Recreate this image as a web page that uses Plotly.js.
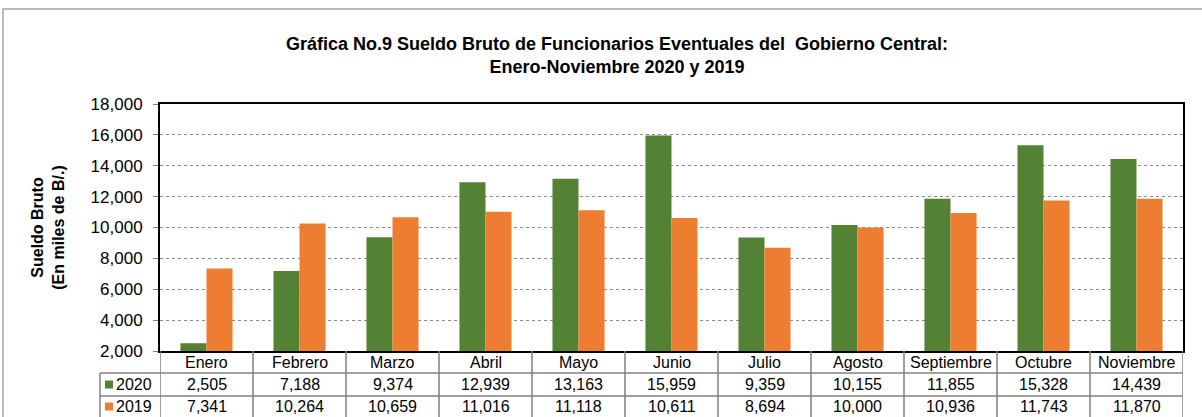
<!DOCTYPE html>
<html>
<head>
<meta charset="utf-8">
<script src="https://cdn.plot.ly/plotly-3.0.1.min.js"></script>
<style>
  html, body { margin: 0; padding: 0; background: #fff; }
  #chart { width: 1202px; height: 417px; }
</style>
</head>
<body>
<div id="chart"></div>
<script>
const months = ['Enero', 'Febrero', 'Marzo', 'Abril', 'Mayo', 'Junio', 'Julio',
  'Agosto', 'Septiembre', 'Octubre', 'Noviembre'];
const values2020 = [2505, 7188, 9374, 12939, 13163, 15959, 9359, 10155, 11855, 15328, 14439];
const values2019 = [7341, 10264, 10659, 11016, 11118, 10611, 8694, 10000, 10936, 11743, 11870];
const seriesNames = ['2020', '2019'];
const seriesColors = ['#548235', '#ED7D31'];

const fontFamily = 'Arial, "Liberation Sans", sans-serif';
const fmt = v => v.toLocaleString('en-US');

// plot area in pixels: left 160, right 1183, top 104, bottom 351
const plotTop = 104, plotBottom = 351;
const pyToPaper = py => (plotBottom - py) / (plotBottom - plotTop);
const pxToPaper = px => (px - 160) / 1023;

const traces = [values2020, values2019].map((vals, i) => ({
  type: 'bar',
  name: seriesNames[i],
  x: months,
  y: vals,
  marker: { color: seriesColors[i] },
  hoverinfo: 'x+y+name'
}));

// table rows below the plot (data table, excel style)
const rowLines = [373, 396, 417];
const rowMid = [362, 384.5, 406.5];
const tableColor = '#808080';
const cellFont = { size: 16, color: '#000', family: fontFamily };

const shapes = [];
const annotations = [];

// outer chart border
shapes.push({
  type: 'rect', xref: 'paper', yref: 'paper',
  x0: pxToPaper(3), x1: pxToPaper(1240), y0: pyToPaper(440), y1: pyToPaper(9),
  line: { color: '#a6a6a6', width: 1.5 }, layer: 'below'
});

// horizontal lines of the table
rowLines.slice(0, 2).forEach(py => {
  shapes.push({
    type: 'line', xref: 'paper', yref: 'paper',
    x0: pxToPaper(100), x1: 1, y0: pyToPaper(py), y1: pyToPaper(py),
    line: { color: tableColor, width: 1.5 }
  });
});

// vertical column lines (category boundaries)
for (let i = 0; i <= months.length; i++) {
  shapes.push({
    type: 'line', xref: 'x', yref: 'paper',
    x0: i - 0.5, x1: i - 0.5, y0: 0, y1: pyToPaper(430),
    line: { color: tableColor, width: 1.5 }
  });
}
// legend column left edge
shapes.push({
  type: 'line', xref: 'paper', yref: 'paper',
  x0: pxToPaper(100), x1: pxToPaper(100), y0: pyToPaper(rowLines[0]), y1: pyToPaper(430),
  line: { color: tableColor, width: 1.5 }
});

// month headers
months.forEach(m => {
  annotations.push({
    xref: 'x', yref: 'paper', x: m, y: pyToPaper(rowMid[0]), yanchor: 'middle',
    text: m, showarrow: false, font: cellFont
  });
});

// value rows + legend keys
[values2020, values2019].forEach((vals, r) => {
  const y = pyToPaper(rowMid[r + 1]);
  vals.forEach((v, i) => {
    annotations.push({
      xref: 'x', yref: 'paper', x: months[i], y: y, yanchor: 'middle',
      text: fmt(v), showarrow: false, font: cellFont
    });
  });
  shapes.push({
    type: 'rect', xref: 'paper', yref: 'paper',
    x0: pxToPaper(105), x1: pxToPaper(113),
    y0: pyToPaper(rowMid[r + 1] + 4), y1: pyToPaper(rowMid[r + 1] - 4),
    fillcolor: seriesColors[r], line: { width: 0 }
  });
  annotations.push({
    xref: 'paper', yref: 'paper', x: pxToPaper(114), y: y, xanchor: 'left', yanchor: 'middle',
    text: seriesNames[r], showarrow: false, font: cellFont
  });
});

const layout = {
  width: 1202,
  height: 417,
  margin: { l: 160, r: 19, t: plotTop, b: 417 - plotBottom, pad: 0 },
  paper_bgcolor: '#fff',
  plot_bgcolor: '#fff',
  showlegend: false,
  barmode: 'group',
  bargap: 0.44,
  bargroupgap: 0,
  font: { family: fontFamily, color: '#000' },
  title: {
    text: '<b>Gráfica No.9 Sueldo Bruto de Funcionarios Eventuales del  Gobierno Central:<br>Enero-Noviembre 2020 y 2019</b>',
    font: { size: 18, family: fontFamily, color: '#000' },
    x: 617 / 1202, xanchor: 'center',
    y: 1 - 50 / 417, yanchor: 'top'
  },
  xaxis: {
    type: 'category',
    showticklabels: false,
    ticks: '',
    showgrid: false,
    showline: true, mirror: true, linecolor: '#000', linewidth: 2,
    range: [-0.5, months.length - 0.5]
  },
  yaxis: {
    range: [2000, 18000],
    tick0: 2000,
    dtick: 2000,
    tickformat: ',d',
    ticks: 'outside', ticklen: 5, tickcolor: '#808080', tickwidth: 1,
    ticklabelstandoff: 7,
    tickfont: { size: 17, family: fontFamily, color: '#000' },
    showgrid: true, gridcolor: '#8c8c8c', griddash: 'dot', gridwidth: 1,
    showline: true, mirror: true, linecolor: '#000', linewidth: 2,
    zeroline: false,
    title: {
      text: '<b>Sueldo Bruto<br>(En miles de B/.)</b>',
      font: { size: 16, family: fontFamily, color: '#000' },
      standoff: 22
    }
  },
  shapes: shapes,
  annotations: annotations
};

Plotly.newPlot('chart', traces, layout, { displayModeBar: false, staticPlot: true });
</script>
</body>
</html>
